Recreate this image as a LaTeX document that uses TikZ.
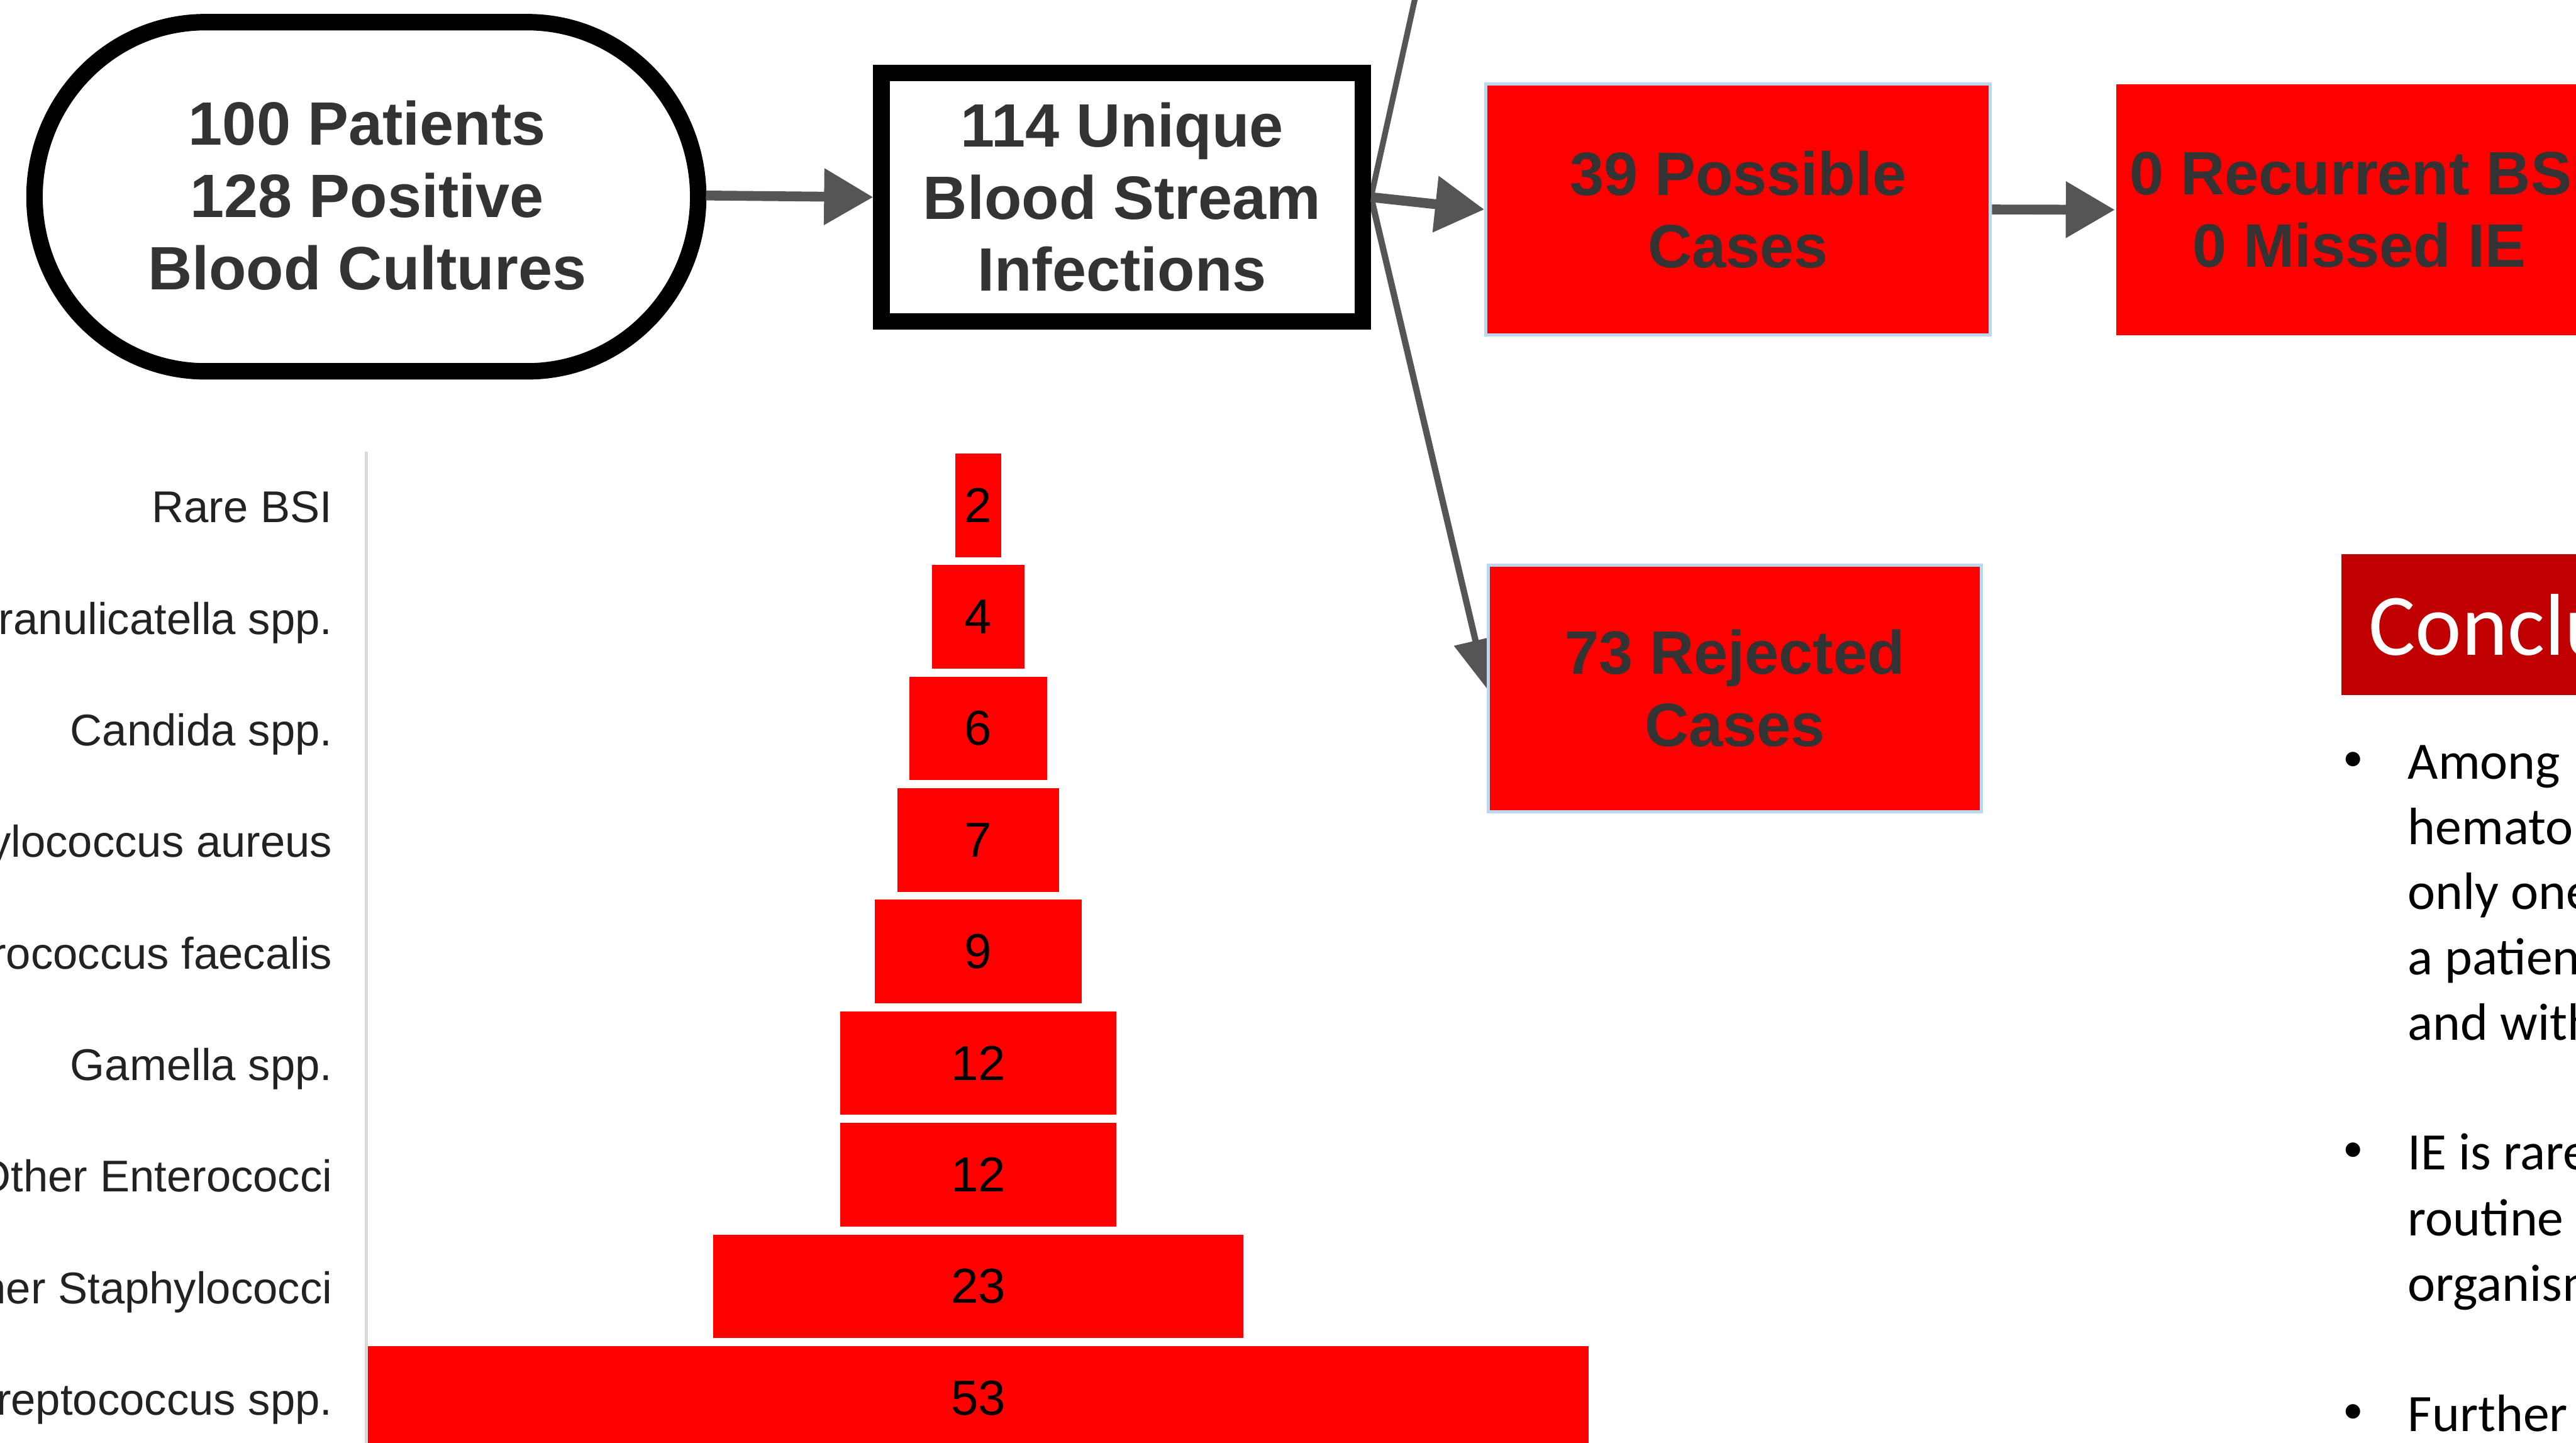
\documentclass[tikz,border=0pt]{standalone}
\usepackage{fontspec}
\setmainfont{Liberation Sans}
\newfontfamily\carl{Carlito}
\usetikzlibrary{arrows.meta,backgrounds}
\definecolor{txt}{HTML}{333333}
\definecolor{arr}{HTML}{555555}
\definecolor{boxred}{HTML}{FF0000}
\definecolor{edge}{HTML}{BDD7EE}
\definecolor{headred}{HTML}{C00000}
\definecolor{axisgray}{HTML}{D9D9D9}
\definecolor{labtxt}{HTML}{222222}
\begin{document}
\begin{tikzpicture}[x=0.1mm,y=-0.1mm,
  boxfont/.style={font=\fontsize{10.6pt}{12.5pt}\selectfont\bfseries, text=txt, align=center},
  redbox/.style={boxfont, fill=boxred, draw=edge, line width=0.57pt, inner sep=0pt},
  bigarrow/.style={draw=arr, line width=1.7pt, -{Triangle[length=8.5pt,width=9.4pt]}},
  thinarrow/.style={draw=arr, line width=1.1pt, -{Triangle[length=8.5pt,width=7.4pt]}},
  barbox/.style={fill=boxred, inner sep=0pt, minimum height=6.3mm, font=\fontsize{8.5pt}{10pt}\selectfont, text=black},
  barlabel/.style={anchor=base east, inner sep=0pt, font=\fontsize{7.7pt}{9pt}\selectfont, text=labtxt},
  bodytext/.style={anchor=base west, inner sep=0pt, font=\carl\fontsize{9.1pt}{11pt}\selectfont, text=black},
  bulletdot/.style={anchor=base, inner sep=0pt, font=\carl\fontsize{7.1pt}{9pt}\selectfont, text=black},
]
\useasboundingbox (0,0) rectangle (1568,878);
\clip (0,0) rectangle (1568,878);

% start terminal
\node[boxfont, inner sep=0pt, minimum width=41.1mm, minimum height=22.2mm] (stad) at (223.5,119) {100 Patients\\128 Positive\\Blood Cultures};
\draw[line width=2.85pt] (125,13.5) -- (321,13.5)
  .. controls (378.4,13.5) and (425,61.1) .. (425,119.8)
  .. controls (425,178.5) and (378.4,226) .. (321,226)
  -- (125,226)
  .. controls (67.6,226) and (21,178.5) .. (21,119.8)
  .. controls (21,61.1) and (67.6,13.5) .. (125,13.5) -- cycle;

% boxes
\node[boxfont, draw=black, line width=2.85pt, minimum width=29.3mm, minimum height=15.1mm, inner sep=0pt] (bsi) at (683,120) {114 Unique\\Blood Stream\\Infections};
\node[redbox, minimum width=30.7mm, minimum height=15.3mm] (pos) at (1058,127.5) {39 Possible\\Cases};
\node[boxfont, fill=boxred, inner sep=0pt, minimum width=29.6mm, minimum height=15.3mm] (rec) at (1436,127.7) {0 Recurrent BSI\\0 Missed IE};
\node[redbox, minimum width=30mm, minimum height=15mm] (rej) at (1056,419) {73 Rejected\\Cases};

% connectors
\begin{pgfonlayer}{background}
\coordinate (up) at (862,-4);
\draw[draw=arr, line width=1pt] (bsi.east) -- (up);
\draw[thinarrow] (bsi.east) -- (rej.west);
\end{pgfonlayer}
\draw[bigarrow] (stad.east) -- (bsi.west);
\draw[bigarrow] (bsi.east) -- (pos.west);
\draw[bigarrow] (pos.east) -- (rec.west);

% funnel chart
\draw[axisgray, line width=0.6pt] (223,275) -- (223,878);
\foreach \v/\lab [count=\i from 0] in {2/Rare BSI, 4/Granulicatella spp., 6/Candida spp., 7/Staphylococcus aureus, 9/Enterococcus faecalis, 12/Gamella spp., 12/Other Enterococci, 23/Other Staphylococci, 53/Streptococcus spp.} {
  \pgfmathsetmacro\cy{307.5+67.9*\i}
  \pgfmathsetmacro\w{1.402*\v}
  \node[barbox, minimum width=\w mm] (bar\i) at (595.5,\cy) {\v};
  \node[barlabel] (lab\i) at (203,\cy+10.5) {\lab};
}

% conclusions
\node[anchor=north west, fill=headred, text=white, font=\carl\fontsize{15.2pt}{18pt}\selectfont, inner xsep=1.66mm, inner ysep=0pt, text height=6.14mm, text depth=2.45mm] (conc) at (1424.4,336.6) {Conclusions};
\foreach \t/\yb [count=\k] in {Among/474, hemato/514, only one/553.5, a patient/593, and with/633, IE is rare/712, routine/752, organism/792, Further/871}
  \node[bodytext] (line\k) at (1465,\yb) {\t};
\foreach \yb [count=\k] in {469,707,866}
  \node[bulletdot] (dot\k) at (1432.5,\yb) {•};
\end{tikzpicture}
\end{document}
